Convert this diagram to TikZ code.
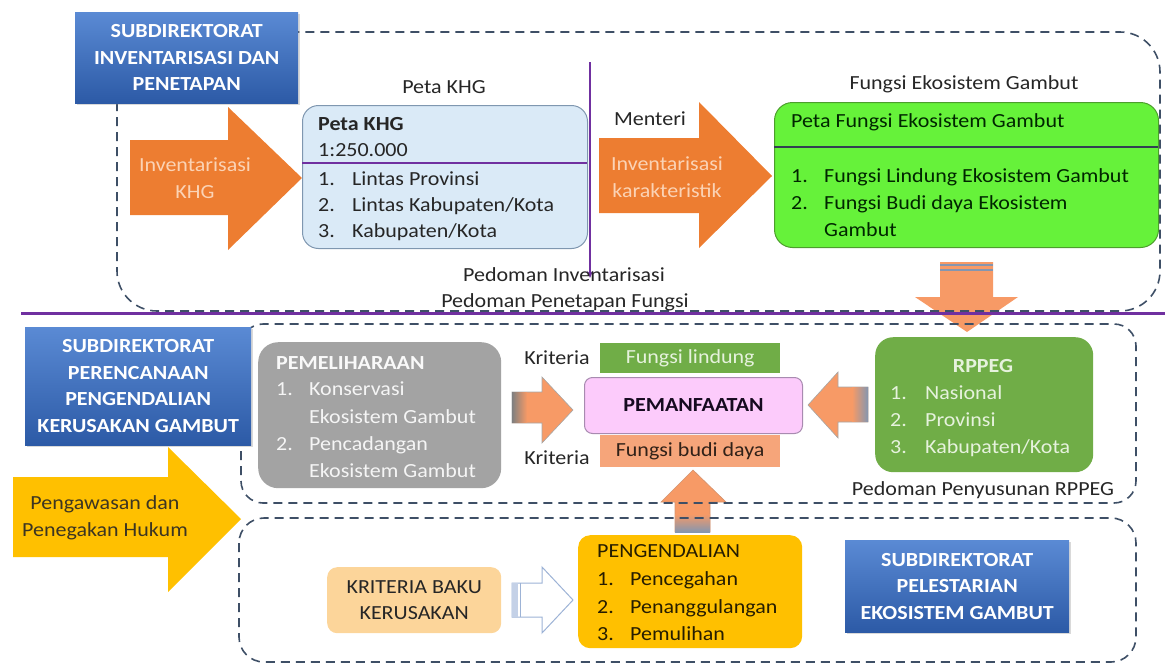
\documentclass[tikz,border=0pt]{standalone}
\usepackage{fontspec}
\setmainfont{Carlito}[FakeStretch=1.1]
\usetikzlibrary{shadows,arrows.meta}
\definecolor{dashc}{HTML}{3E4F66}
\definecolor{purp}{HTML}{7030A0}
\definecolor{blueT}{HTML}{5A8AD4}
\definecolor{blueB}{HTML}{2C5AA6}
\definecolor{orgA}{HTML}{ED7D31}
\definecolor{salm}{HTML}{F79A66}
\definecolor{peach}{HTML}{FBD3B5}
\definecolor{ltblue}{HTML}{DAEAF7}
\definecolor{ltblueD}{HTML}{7F97B0}
\definecolor{brgreen}{HTML}{66F23A}
\definecolor{brgreenD}{HTML}{4C9E2C}
\definecolor{dkgreen}{HTML}{70AD47}
\definecolor{pale}{HTML}{E6F2DD}
\definecolor{grayb}{HTML}{A3A3A3}
\definecolor{pink}{HTML}{FCCBFB}
\definecolor{pinkD}{HTML}{A88BB0}
\definecolor{budi}{HTML}{F6A57A}
\definecolor{yel}{HTML}{FFC000}
\definecolor{kbk}{HTML}{FCD59A}
\definecolor{stripe}{HTML}{8496B0}
\definecolor{hollow}{HTML}{9DB3D6}
\definecolor{txt}{HTML}{262626}
\begin{document}
\begin{tikzpicture}[x=1pt,y=-1pt,
  every node/.style={inner sep=0pt, font=\fontsize{20}{26}\selectfont, text=txt},
  subdir/.style={rectangle, anchor=north west, top color=blueT, bottom color=blueB, draw=none,
     drop shadow={opacity=0.3, shadow xshift=1.5pt, shadow yshift=-1.5pt}},
  subtext/.style={align=center, text=white, font=\fontsize{20}{26.5}\selectfont\bfseries},
  dashbox/.style={draw=dashc, line width=1.6pt, dash pattern=on 9pt off 6pt},
  box/.style={rectangle, anchor=north west},
  lt/.style={anchor=base west},
  ct/.style={anchor=base},
]
\useasboundingbox (0,0) rectangle (1165,664);

% ---------------- big arrows ----------------
\fill[orgA] (130,140) -- (228,140) -- (228,107) -- (302,178) -- (228,250) -- (228,215) -- (130,215) -- cycle;
\node[align=center, text=peach, font=\fontsize{20}{27}\selectfont] (arrA) at (195,178) {Inventarisasi\\KHG};

\fill[orgA] (599,138) -- (699,138) -- (699,102) -- (772,176) -- (699,248) -- (699,213) -- (599,213) -- cycle;
\node[align=center, text=peach, font=\fontsize{20}{27}\selectfont] (arrB) at (667,177) {Inventarisasi\\karakteristik};

% down arrow
\fill[salm] (940,262) -- (993,262) -- (993,297) -- (1018,297) -- (967,332) -- (915,297) -- (940,297) -- cycle;
\draw[stripe, line width=2pt] (940,265) -- (993,265);
\draw[stripe, line width=2pt] (940,270) -- (993,270);

% yellow arrow
\fill[yel] (13,477) -- (168,477) -- (168,447) -- (241,519) -- (168,592) -- (168,557) -- (13,557) -- cycle;
\node[align=center, text=txt!90!yel, font=\fontsize{20}{27}\selectfont] (arrY) at (105,518) {Pengawasan dan\\Penegakan Hukum};

% up arrow
\fill[salm, draw=salm!70!gray, line width=0.6pt] (675,532) -- (675,502) -- (661,502) -- (693,470) -- (726,502) -- (710,502) -- (710,532) -- cycle;
\shade[top color=salm, bottom color=stripe] (675,514) rectangle (710,532);

% ---------------- dashed frames ----------------
\draw[dashbox, rounded corners=40pt] (117,32) rectangle (1160,311);
\draw[dashbox, rounded corners=22pt] (241,324) rectangle (1136,503);
\draw[dashbox, rounded corners=25pt] (239,518) rectangle (1136,662);

% purple lines
\draw[purp, line width=3pt] (21,313) -- (1165,313);
\coordinate (vtop) at (590,62);
\coordinate (vbot) at (590,278);
\draw[purp, line width=2pt, -{Stealth[length=7pt,width=6pt]}] (vtop) -- (vbot);

% ---------------- subdirektorat boxes ----------------
\node[subdir, minimum width=223pt, minimum height=91pt] (sd1) at (75,12) {};
\node[subtext] (sd1t) at (sd1.center) {SUBDIREKTORAT\\INVENTARISASI DAN\\PENETAPAN};

\node[subdir, minimum width=226pt, minimum height=118pt] (sd2) at (25,327) {};
\node[subtext] (sd2t) at (sd2.center) {SUBDIREKTORAT\\PERENCANAAN\\PENGENDALIAN\\KERUSAKAN GAMBUT};

\node[subdir, minimum width=224pt, minimum height=92pt] (sd3) at (845,540) {};
\node[subtext] (sd3t) at (sd3.center) {SUBDIREKTORAT\\PELESTARIAN\\EKOSISTEM GAMBUT};

% ---------------- top section ----------------
\node[ct] (lblKHG) at (444,93) {Peta KHG};
\node[box, fill=ltblue, draw=ltblueD, line width=1pt, rounded corners=16pt,
      minimum width=285pt, minimum height=143pt] (khg) at (302,105) {};
\coordinate (khgL) at (302,163);
\coordinate (khgR) at (587,163);
\draw[purp, line width=2pt] (khgL) -- (khgR);
\node[lt, font=\fontsize{20}{26}\selectfont\bfseries] (k0) at (318,130) {Peta KHG};
\node[lt] (k1) at (318,156) {1:250.000};
\node[lt] (k2n) at (318,185) {1.};
\node[lt] (k2) at (352,185) {Lintas Provinsi};
\node[lt] (k3n) at (318,211) {2.};
\node[lt] (k3) at (352,211) {Lintas Kabupaten/Kota};
\node[lt] (k4n) at (318,237) {3.};
\node[lt] (k4) at (352,237) {Kabupaten/Kota};

\node[ct] (menteri) at (650,125) {Menteri};

\node[ct] (lblFEG) at (964,89) {Fungsi Ekosistem Gambut};
\node[box, fill=brgreen, draw=brgreenD, line width=1pt, rounded corners=18pt,
      minimum width=384pt, minimum height=145pt] (feg) at (774,102) {};
\coordinate (fegL) at (774,147);
\coordinate (fegR) at (1158,147);
\draw[dashc!80!black, line width=2pt] (fegL) -- (fegR);
\node[lt, text=black!85!green] (f0) at (791,127) {Peta Fungsi Ekosistem Gambut};
\node[lt, text=black!85!green] (f1n) at (791,182) {1.};
\node[lt, text=black!85!green] (f1) at (824,182) {Fungsi Lindung Ekosistem Gambut};
\node[lt, text=black!85!green] (f2n) at (791,209) {2.};
\node[lt, text=black!85!green] (f2) at (824,209) {Fungsi Budi daya Ekosistem};
\node[lt, text=black!85!green] (f3) at (824,236) {Gambut};

\node[ct] (ped1) at (564,281) {Pedoman Inventarisasi};
\node[ct] (ped2) at (565,307) {Pedoman Penetapan Fungsi};

% ---------------- middle section ----------------
\node[box, fill=grayb, rounded corners=20pt, minimum width=243pt, minimum height=146pt] (pem) at (258,342) {};
\node[lt, text=white!95!gray, font=\fontsize{20}{26}\selectfont\bfseries] (p0) at (276,369) {PEMELIHARAAN};
\node[lt, text=white!92!gray] (p1n) at (276,395) {1.};
\node[lt, text=white!92!gray] (p1) at (309,395) {Konservasi};
\node[lt, text=white!92!gray] (p2) at (309,423) {Ekosistem Gambut};
\node[lt, text=white!92!gray] (p3n) at (276,450) {2.};
\node[lt, text=white!92!gray] (p3) at (309,450) {Pencadangan};
\node[lt, text=white!92!gray] (p4) at (309,477) {Ekosistem Gambut};

% arrow PEMELIHARAAN -> PEMANFAATAN
\fill[salm, draw=gray!70, line width=0.6pt] (512,392) -- (542,392) -- (542,377) -- (573,410) -- (542,443) -- (542,423) -- (512,423) -- cycle;
\shade[left color=gray, right color=salm] (512,392.5) rectangle (527,422.5);

\node[ct] (kr1) at (557,364) {Kriteria};
\node[ct] (kr2) at (557,464) {Kriteria};

\node[box, fill=dkgreen, minimum width=180pt, minimum height=30pt] (lind) at (600,343) {};
\node[text=pale] (lindt) at (lind.center) {Fungsi lindung};
\node[box, fill=budi, minimum width=180pt, minimum height=32pt] (budi) at (600,435) {};
\node[text=black!80!budi] (budit) at (budi.center) {Fungsi budi daya};
\node[box, fill=pink, draw=pinkD, line width=1pt, rounded corners=8pt,
      minimum width=218pt, minimum height=56pt] (manf) at (584,377) {};
\node[font=\fontsize{20}{26}\selectfont\bfseries, text=black!80!purp] (manft) at (manf.center) {PEMANFAATAN};

% arrow RPPEG -> PEMANFAATAN
\fill[salm, draw=gray!70, line width=0.6pt] (868,387) -- (838,387) -- (838,372) -- (808,405) -- (838,438) -- (838,422) -- (868,422) -- cycle;
\shade[left color=salm, right color=stripe] (852,387.5) rectangle (868,421.5);

\node[box, fill=dkgreen, rounded corners=18pt, minimum width=218pt, minimum height=135pt] (rppeg) at (875,337) {};
\node[ct, text=pale, font=\fontsize{20}{26}\selectfont\bfseries] (r0) at (983,372) {RPPEG};
\node[lt, text=pale] (r1n) at (890,399) {1.};
\node[lt, text=pale] (r1) at (925,399) {Nasional};
\node[lt, text=pale] (r2n) at (890,426) {2.};
\node[lt, text=pale] (r2) at (925,426) {Provinsi};
\node[lt, text=pale] (r3n) at (890,453) {3.};
\node[lt, text=pale] (r3) at (925,453) {Kabupaten/Kota};
\node[ct] (pedR) at (983,495) {Pedoman Penyusunan RPPEG};

% ---------------- bottom section ----------------
\node[box, fill=kbk, rounded corners=10pt, minimum width=174pt, minimum height=66pt] (kbkbox) at (327,567) {};
\node[align=center, font=\fontsize{20}{26.5}\selectfont] (kbkt) at (kbkbox.center) {KRITERIA BAKU\\KERUSAKAN};

% hollow arrow
\filldraw[fill=white, draw=hollow, line width=1pt] (512,583) -- (542,583) -- (542,567) -- (573,600) -- (542,633) -- (542,617) -- (512,617) -- cycle;
\fill[hollow!60] (512,583) rectangle (518,617);
\draw[hollow, line width=1pt] (520.5,583) -- (520.5,617);

\node[box, fill=yel, rounded corners=12pt, minimum width=224pt, minimum height=113pt] (peng) at (578,535) {};
\node[lt, text=black!85!yel] (g0) at (597,557) {PENGENDALIAN};
\node[lt, text=black!85!yel] (g1n) at (597,585) {1.};
\node[lt, text=black!85!yel] (g1) at (630,585) {Pencegahan};
\node[lt, text=black!85!yel] (g2n) at (597,613) {2.};
\node[lt, text=black!85!yel] (g2) at (630,613) {Penanggulangan};
\node[lt, text=black!85!yel] (g3n) at (597,640) {3.};
\node[lt, text=black!85!yel] (g3) at (630,640) {Pemulihan};

\end{tikzpicture}
\end{document}
